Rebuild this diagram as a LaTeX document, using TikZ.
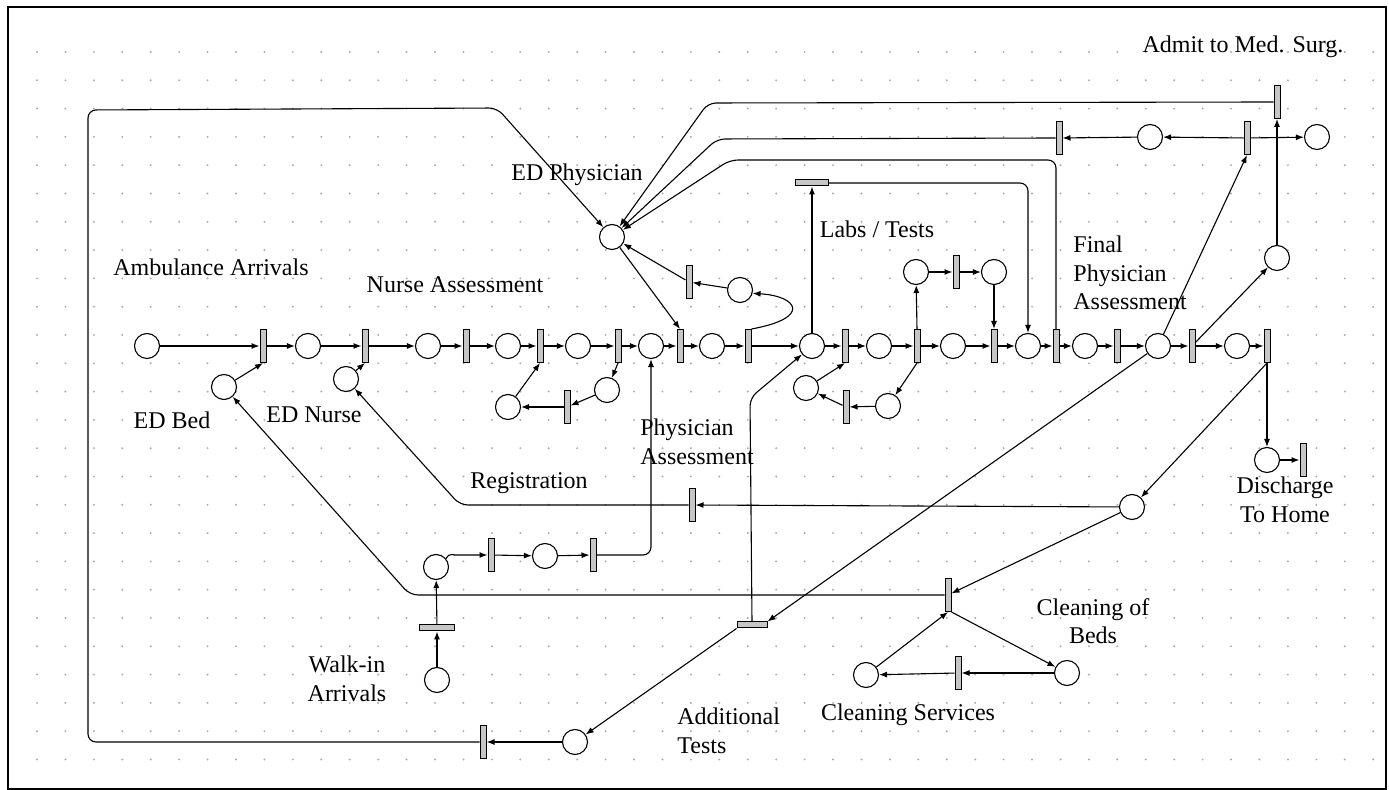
\documentclass[tikz,border=0pt]{standalone}
\usepackage{fontspec}
\setmainfont{Liberation Serif}
\usetikzlibrary{arrows.meta}

\begin{document}
\begin{tikzpicture}[x=0.5pt, y=-0.5pt, >={Latex[length=4pt,width=3pt]},
    place/.style={circle, draw, fill=white, minimum size=12.5pt, inner sep=0pt, line width=0.55pt},
    trans/.style={rectangle, draw, fill=gray!45, minimum width=3pt, minimum height=16.5pt, inner sep=0pt, line width=0.5pt},
    htrans/.style={trans, minimum width=16.5pt, minimum height=3pt},
    arc/.style={->, line width=0.55pt, rounded corners=4pt},
    wire/.style={line width=0.55pt, rounded corners=4pt},
    lbl/.style={font=\fontsize{12}{14.25}\selectfont, inner sep=0pt}]
  \useasboundingbox (0,0) rectangle (1389,790);
  \draw[line width=1pt] (8,7) rectangle (1386,789);
  % Dot grid of the editor
  \foreach \i in {0,...,47} {
    \foreach \j in {0,...,25} {
      \fill[gray!65] (37+28.43*\i, 52+28.3*\j) circle (0.55pt);
    }
  }
  % Main flow of the patient
  \foreach \n/\px in {pa/147, p2/308, p3/428, p4/508, p5/578, p6/651, p7/712,
      p8/812, p9/879, p10/953, p11/1028, p12/1085, p13/1158, p14/1237} {
    \node[place] (\n) at (\px, 346) {};
  }
  \foreach \n/\px in {t1/263, t2/365, t3/466, t4/540, t5/618, t6/680, t7/748,
      t8/845, t9/917, t10/994, t11/1056, t12/1117, t13/1192, t14/1267} {
    \node[trans] (\n) at (\px, 346) {};
  }
  \foreach \a/\b in {pa/t1, t1/p2, p2/t2, t2/p3, p3/t3, t3/p4, p4/t4, t4/p5,
      p5/t5, t5/p6, p6/t6, t6/p7, p7/t7, t7/p8, p8/t8, t8/p9, p9/t9, t9/p10,
      p10/t10, t10/p11, p11/t11, t11/p12, p12/t12, t12/p13, p13/t13, t13/p14,
      p14/t14} {
    \draw[arc] (\a) -- (\b);
  }
  % Resources: bed, nurse, physician
  \node[place] (bed) at (224, 387) {};
  \node[place] (nurse) at (346, 379) {};
  \node[place] (phys) at (612, 237) {};
  \draw[arc] (bed) -- (t1.south);
  \draw[arc] (nurse) -- (t2.south);
  % Nurse assessment loop
  \node[place] (n1) at (607, 390) {};
  \node[trans] (nt) at (567, 407) {};
  \node[place] (n2) at (508, 407) {};
  \draw[arc] (t5.south) -- (n1);
  \draw[arc] (n1) -- (nt);
  \draw[arc] (nt) -- (n2);
  \draw[arc] (n2) -- (t4.south);
  % Physician assessment
  \node[place] (pp) at (740, 290) {};
  \node[trans] (tp) at (689, 282) {};
  \draw[arc] (phys) -- (t6.north);
  \draw[arc] (t7.north east) .. controls (812, 318) and (798, 296) .. (pp.-15);
  \draw[arc] (pp) -- (tp);
  \draw[arc] (tp) -- (phys);
  % Labs / tests
  \node[htrans] (tl) at (812, 183) {};
  \draw[arc] (p8) -- (tl);
  \draw[arc] (tl.east) -- (1028, 183) -- (p11);
  \node[place] (lab1) at (916, 272) {};
  \node[trans] (labt) at (956, 272) {};
  \node[place] (lab2) at (994, 272) {};
  \draw[arc] (t9.north) -- (lab1);
  \draw[arc] (lab1) -- (labt);
  \draw[arc] (labt) -- (lab2);
  \draw[arc] (lab2) -- (t10.north);
  \node[place] (q1) at (806, 388) {};
  \node[trans] (qt) at (846, 407) {};
  \node[place] (q2) at (888, 406) {};
  \draw[arc] (t9.south) -- (q2);
  \draw[arc] (q2) -- (qt);
  \draw[arc] (qt) -- (q1);
  \draw[arc] (q1) -- (t8.south);
  % Admission and release of the physician
  \node[trans] (ta2) at (1059, 138) {};
  \node[place] (ptop1) at (1150, 137) {};
  \node[trans] (ttop) at (1247, 138) {};
  \node[place] (ptop2) at (1317, 137) {};
  \node[trans] (tadm) at (1277, 102) {};
  \node[place] (padm) at (1277, 258) {};
  \draw[arc] (p13) -- (ttop.south);
  \draw[arc] (ttop) -- (ptop1);
  \draw[arc] (ptop1) -- (ta2);
  \draw[arc] (ttop) -- (ptop2);
  \draw[arc] (t13) -- (padm);
  \draw[arc] (padm) -- (tadm);
  \draw[arc] (tadm.west) -- (708, 103) -- (phys);
  \draw[arc] (ta2.west) -- (717, 139) -- (phys);
  \draw[arc] (t11.north) -- (1056, 160) -- (730, 160) -- (phys);
  % Discharge
  \node[place] (dh) at (1267, 460) {};
  \node[trans] (dht) at (1303, 460) {};
  \draw[arc] (t14.south) -- (dh);
  \draw[arc] (dh) -- (dht);
  % Registration and cleaning of beds
  \node[place] (pc) at (1132, 507) {};
  \node[trans] (treg) at (692, 505) {};
  \node[trans] (tcl) at (948, 595) {};
  \node[place] (pcb) at (1067, 673) {};
  \node[trans] (tcs) at (958, 673) {};
  \node[place] (pcs) at (866, 675) {};
  \draw[arc] (t14.south) -- (pc);
  \draw[arc] (pc) -- (treg);
  \draw[arc] (treg) -- (460, 505) -- (nurse);
  \draw[arc] (pc) -- (tcl);
  \draw[arc] (tcl.west) -- (410, 595) -- (bed);
  \draw[arc] (tcl.south east) -- (pcb);
  \draw[arc] (pcb) -- (tcs);
  \draw[arc] (tcs) -- (pcs);
  \draw[arc] (pcs) -- (tcl.south);
  % Walk-in arrivals
  \node[place] (pw0) at (437, 680) {};
  \node[htrans, minimum width=17.5pt] (tw) at (437, 628) {};
  \node[place] (pw) at (436, 567) {};
  \node[trans] (tw1) at (491, 555) {};
  \node[place] (pw1) at (545, 556) {};
  \node[trans] (tw2) at (593, 555) {};
  \draw[arc] (pw0) -- (tw);
  \draw[arc] (tw) -- (pw);
  \draw[arc] (pw.40) to[out=70, in=180] (462, 555) -- (tw1);
  \draw[arc] (tw1) -- (pw1);
  \draw[arc] (pw1) -- (tw2);
  \draw[arc] (tw2) -- (651, 555) -- (p6);
  % Additional tests
  \node[htrans, minimum width=15pt] (tat) at (752, 625) {};
  \node[place] (pret) at (575, 742) {};
  \node[trans] (tret) at (483, 742) {};
  \draw[arc] (p13) -- (tat.north east);
  \draw[arc] (tat.north) -- (750, 398) -- (p8);
  \draw[arc] (tat.south west) -- (pret);
  \draw[arc] (pret) -- (tret);
  \draw[arc] (tret) -- (88, 742) -- (88, 110) -- (497, 108) -- (phys);
  % Labels
  \node[lbl] (l-amb) at (211, 267) {Ambulance Arrivals};
  \node[lbl] (l-nas) at (455, 285) {Nurse Assessment};
  \node[lbl] (l-phy) at (577, 175) {ED Physician};
  \node[lbl] (l-lab) at (877, 229) {Labs / Tests};
  \node[lbl, align=left, anchor=west] (l-fin) at (1073, 273) {Final\\Physician\\Assessment};
  \node[lbl] (l-adm) at (1243, 47) {Admit to Med. Surg.};
  \node[lbl] (l-bed) at (172, 420) {ED Bed};
  \node[lbl] (l-nur) at (314, 415) {ED Nurse};
  \node[lbl] (l-reg) at (529, 483) {Registration};
  \node[lbl, align=left, anchor=west] (l-pas) at (640, 442) {Physician\\Assessment};
  \node[lbl, align=center] (l-wlk) at (347, 679) {Walk-in\\Arrivals};
  \node[lbl, align=left, anchor=west] (l-add) at (677, 731) {Additional\\Tests};
  \node[lbl] (l-cls) at (908, 715) {Cleaning Services};
  \node[lbl, align=center] (l-clb) at (1093, 621) {Cleaning of\\Beds};
  \node[lbl, align=center] (l-dis) at (1285, 500) {Discharge\\To Home};
\end{tikzpicture}
\end{document}
